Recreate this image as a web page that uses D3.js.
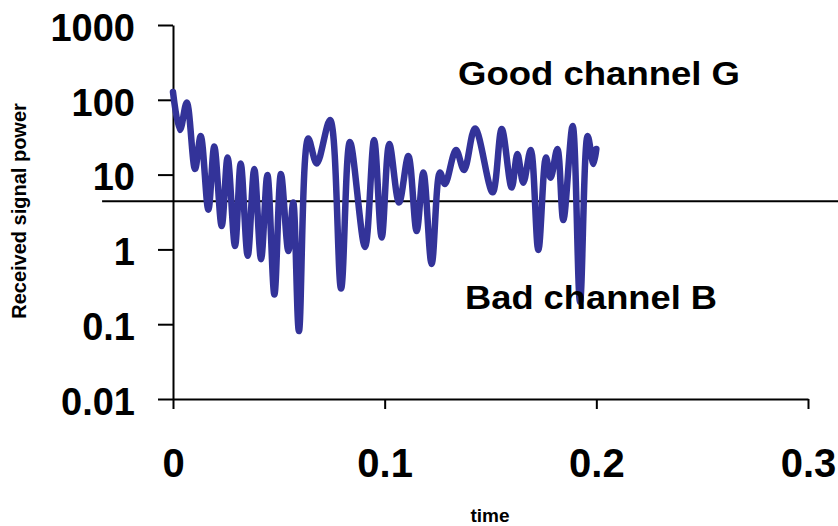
<!DOCTYPE html>
<html>
<head>
<meta charset="utf-8">
<script src="https://cdn.jsdelivr.net/npm/d3@7"></script>
<style>
  body { margin: 0; background: #fff; }
  svg { display: block; font-family: "Liberation Sans", Arial, sans-serif; font-weight: bold; }
</style>
</head>
<body>
<div id="chart"></div>
<script>
// time (s) and received power, peaks and dips in order
const time = [0, 0.0033, 0.0065, 0.0104, 0.0131, 0.0167, 0.0195, 0.0230, 0.0258, 0.0293,
  0.0320, 0.0353, 0.0384, 0.0416, 0.0446, 0.0479, 0.0510, 0.0545, 0.0568, 0.0595,
  0.0639, 0.0679, 0.0742, 0.0794, 0.0836, 0.0907, 0.0950, 0.0986, 0.1022, 0.1068,
  0.1112, 0.1151, 0.1183, 0.1222, 0.1261, 0.1285, 0.1337, 0.1375, 0.1427, 0.1510,
  0.1553, 0.1600, 0.1627, 0.1655, 0.1690, 0.1726, 0.1762, 0.1784, 0.1816, 0.1844,
  0.1888, 0.1923, 0.1959, 0.1986, 0.2000];
const power = [127, 39.5, 92, 11.9, 32.8, 3.4, 23.8, 2.05, 16.9, 1.11,
  14.1, 0.82, 11.9, 0.74, 9.9, 0.25, 10.2, 0.95, 4.24, 0.081,
  30.4, 14.1, 53.7, 0.30, 27.3, 1.08, 29, 1.44, 25.7, 4.24,
  17.7, 1.76, 10.7, 0.64, 10.7, 7.5, 21.3, 11.5, 41.3, 5.8,
  40.7, 6.7, 18.8, 7.8, 21.3, 0.98, 16.9, 9.1, 22, 2.47,
  44.6, 0.20, 32.8, 13.9, 22];

const threshold = 4.4;
const thresholdSpan = [-0.0335, 0.33];

const yTicks = [0.01, 0.1, 1, 10, 100, 1000];
const yTickLabels = ["0.01", "0.1", "1", "10", "100", "1000"];
const xTicks = [0, 0.1, 0.2, 0.3];
const xTickLabels = ["0", "0.1", "0.2", "0.3"];

const width = 838, height = 526;

const svg = d3.select("#chart").append("svg")
    .attr("width", width)
    .attr("height", height);

const x = d3.scaleLinear().domain([0, 0.3]).range([173, 808]);
const y = d3.scaleLog().domain([0.01, 1000]).range([399, 25]);

// y axis
const yAxis = svg.append("g")
    .attr("transform", `translate(${x(0)},0)`)
    .call(d3.axisLeft(y)
        .tickValues(yTicks)
        .tickFormat((d, i) => yTickLabels[i])
        .tickSize(15)
        .tickSizeOuter(0)
        .tickPadding(23));

// x axis
const xAxis = svg.append("g")
    .attr("transform", `translate(0,${y(0.01)})`)
    .call(d3.axisBottom(x)
        .tickValues(xTicks)
        .tickFormat((d, i) => xTickLabels[i])
        .tickSize(10)
        .tickSizeOuter(0)
        .tickPadding(40));

svg.selectAll(".domain, .tick line")
    .attr("stroke", "#000")
    .attr("stroke-width", 2);

yAxis.selectAll("text")
    .attr("dy", "0.4em")
    .style("font-size", "38px")
    .style("font-weight", "bold")
    .attr("fill", "#000");

xAxis.selectAll("text")
    .style("font-size", "40px")
    .style("font-weight", "bold")
    .attr("fill", "#000");

// threshold between good and bad channel
svg.append("line")
    .attr("x1", x(thresholdSpan[0]))
    .attr("x2", x(thresholdSpan[1]))
    .attr("y1", y(threshold))
    .attr("y2", y(threshold))
    .attr("stroke", "#000")
    .attr("stroke-width", 2);

// signal
const line = d3.line()
    .x((d, i) => x(time[i]))
    .y(d => y(d))
    .curve(d3.curveCatmullRom.alpha(0.5));

svg.append("path")
    .datum(power)
    .attr("d", line)
    .attr("fill", "none")
    .attr("stroke", "#333399")
    .attr("stroke-width", 6.5)
    .attr("stroke-linejoin", "round")
    .attr("stroke-linecap", "round");

// labels
svg.append("text")
    .attr("x", 458)
    .attr("y", 85)
    .attr("textLength", 282)
    .attr("lengthAdjust", "spacingAndGlyphs")
    .style("font-size", "34px")
    .text("Good channel G");

svg.append("text")
    .attr("x", 465)
    .attr("y", 309)
    .attr("textLength", 252)
    .attr("lengthAdjust", "spacingAndGlyphs")
    .style("font-size", "33px")
    .text("Bad channel B");

svg.append("text")
    .attr("x", 490)
    .attr("y", 522)
    .attr("text-anchor", "middle")
    .style("font-size", "19px")
    .text("time");

svg.append("text")
    .attr("transform", "translate(26,211) rotate(-90)")
    .attr("text-anchor", "middle")
    .style("font-size", "20px")
    .text("Received signal power");
</script>
</body>
</html>
